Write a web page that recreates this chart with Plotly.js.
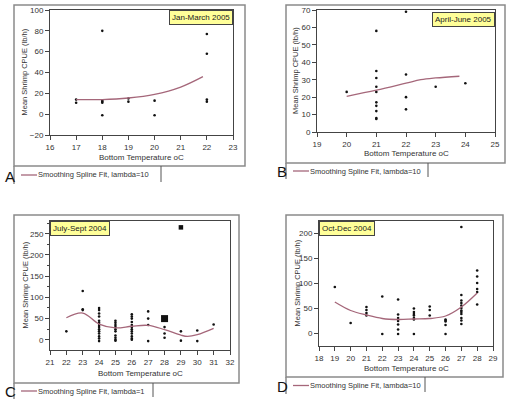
<!DOCTYPE html>
<html><head><meta charset="utf-8">
<script src="https://cdn.plot.ly/plotly-3.0.1.min.js"></script>
<style>html,body{margin:0;padding:0;background:#fff}</style>
</head><body><div id="chart" style="width:510px;height:402px"></div>
<script>
// Panel A: Jan-March 2005
const aTemp = [17,17,18,18,18,18,18,19,19,20,20,22,22,22,22];
const aCpue = [14,11,80,13,12,11,-1,15,12,13,-1,77,58,14,12];
const aFitT = [17,18,19,20,21,21.85];
const aFitC = [14,14,15.5,19,26,36];
// Panel B: April-June 2005
const bTemp = [20,21,21,21,21,21,21,21,21,21,21,22,22,22,22,23,24];
const bCpue = [23,58,35,31,26,23,17,15,12,8,7.5,69,33,20,13,26,28];
const bFitT = [20,21,22,22.5,23,23.8];
const bFitC = [20.5,24,28,30,31,32];
// Panel C: July-Sept 2004
const cTemp = [22,23,23,23,24,24,24,24,24,24,24,24,24,24,24,24,24,24,25,25,25,25,25,25,25,25,25,25,26,26,26,26,26,26,26,26,26,26,26,26,27,27,27,27,28,28,28,29,29,30,30,31];
const cCpue = [20,115,72,70,75,70,62,55,45,40,35,30,25,20,15,8,3,-3,45,40,35,30,25,20,10,5,0,-2,60,55,50,42,35,30,25,20,15,8,3,0,67,50,35,-3,30,15,5,20,-2,22,-3,36];
const cBigT = [28];
const cBigC = [50];
const cMidT = [29];
const cMidC = [265];
const cFitT = [22,23,24,25,26,27,28,29,29.4,30,31];
const cFitC = [52,63,37,28,32,34,24,11,8,12,27];
// Panel D: Oct-Dec 2004
const dTemp = [19,20,21,21,21,21,22,22,23,23,23,23,23,23,23,24,24,24,24,24,24,24,25,25,25,26,26,26,26,26,27,27,27,27,27,27,27,27,27,27,27,27,28,28,28,28,28,28];
const dCpue = [92,20,52,46,40,35,73,-2,67,37,30,24,17,7,-2,49,42,38,35,30,27,-2,53,46,35,27,25,23,16,-2,212,76,65,60,55,50,45,42,38,30,25,18,125,113,100,88,82,57];
const dFitT = [19,20,21,22,23,24,25,26,27,28];
const dFitC = [62,45,36,29,27,28,29,34,52,80];

const panelTitles = ['Jan-March 2005','April-June 2005','July-Sept 2004','Oct-Dec 2004'];
const legendTexts = ['Smoothing Spline Fit, lambda=10','Smoothing Spline Fit, lambda=10','Smoothing Spline Fit, lambda=1','Smoothing Spline Fit, lambda=10'];
const panelLetters = ['A','B','C','D'];
const xTitle = 'Bottom Temperature oC';
const yTitle = 'Mean Shrimp CPUE (lb/h)';

const W = 510, H = 402;
const px = v => v / W;
const py = v => 1 - v / H;
const fitColor = '#a5677a';
const FONT = 'Liberation Sans, Arial, sans-serif';

function dots(x, y, ax, size, sym) {
  return {x, y, xaxis: 'x' + ax, yaxis: 'y' + ax, type: 'scatter', mode: 'markers',
    marker: {color: '#111', size: size || 2.6, symbol: sym || 'circle'}, showlegend: false, hoverinfo: 'x+y'};
}
function fit(x, y, ax) {
  return {x, y, xaxis: 'x' + ax, yaxis: 'y' + ax, type: 'scatter', mode: 'lines',
    line: {color: fitColor, width: 1.3, shape: 'spline', smoothing: 1}, showlegend: false};
}

const traces = [
  dots(aTemp, aCpue, ''), fit(aFitT, aFitC, ''),
  dots(bTemp, bCpue, '2'), fit(bFitT, bFitC, '2'),
  dots(cTemp, cCpue, '3'), dots(cBigT, cBigC, '3', 7, 'square'), dots(cMidT, cMidC, '3', 4.5, 'square'), fit(cFitT, cFitC, '3'),
  dots(dTemp, dCpue, '4'), fit(dFitT, dFitC, '4')
];

// plot boxes in pixels [left, top, right, bottom]
const boxes = [[50,10,233,135],[317,10,495,132],[50,221,230,350],[319,221,493,346]];
const xr = [[16,23],[19,25],[21,32],[18,29]];
const yr = [[-20,100],[0,70],[-24,280],[-26,224]];
const ydt = [20,10,50,50];
// axis title positions [yTitle x, xTitle y]
const titlePos = [[24,157],[295,153],[25,373],[297,368]];

function xaxis(i) {
  const b = boxes[i];
  return {domain: [px(b[0]), px(b[2])], range: xr[i], anchor: i ? 'y' + (i+1) : 'y',
    showgrid: false, zeroline: false, showline: true, mirror: true, linecolor: '#444', linewidth: 1,
    ticks: 'outside', ticklen: 4, tickcolor: '#444', dtick: 1, tick0: 0,
    tickfont: {family: FONT, size: 8, color: '#333'}};
}
function yaxis(i) {
  const b = boxes[i];
  const ax = {domain: [py(b[3]), py(b[1])], range: yr[i], anchor: i ? 'x' + (i+1) : 'x',
    showgrid: false, zeroline: false, showline: true, mirror: true, linecolor: '#444', linewidth: 1,
    ticks: 'outside', ticklen: 4, tickcolor: '#444', dtick: ydt[i], tick0: 0,
    tickfont: {family: FONT, size: 8, color: '#333'}};
  if (i === 2) ax.minor = {dtick: 25, ticks: 'outside', ticklen: 2, tickcolor: '#444'};
  return ax;
}

// outer frames [left, top, right, bottom, legend right line x, legend bottom]
const frames = [[14,5,245,166,161,182],[286,5,505,163,428,177],[14,215,239,383,153,397],[286,215,503,377,425,392]];
const shapes = [], annotations = [];
frames.forEach((f, i) => {
  const b = boxes[i];
  shapes.push({type: 'rect', xref: 'paper', yref: 'paper', x0: px(f[0]), x1: px(f[2]), y0: py(f[3]), y1: py(f[1]), line: {color: '#8a8a8a', width: 1.5}});
  shapes.push({type: 'line', xref: 'paper', yref: 'paper', x0: px(f[0]), x1: px(f[0]), y0: py(f[3]), y1: py(f[5] + 2), line: {color: '#8a8a8a', width: 1.5}});
  shapes.push({type: 'line', xref: 'paper', yref: 'paper', x0: px(f[4]), x1: px(f[4]), y0: py(f[3]), y1: py(f[5]), line: {color: '#555', width: 1}});
  const ly = (f[3] + f[5]) / 2 + 1;
  shapes.push({type: 'line', xref: 'paper', yref: 'paper', x0: px(f[0] + 7), x1: px(f[0] + 23), y0: py(ly), y1: py(ly), line: {color: fitColor, width: 1.3}});
  annotations.push({xref: 'paper', yref: 'paper', x: px(f[0] + 22), y: py(ly), xanchor: 'left', yanchor: 'middle', showarrow: false,
    text: legendTexts[i], font: {family: FONT, size: 7.5, color: '#333'}});
  annotations.push({xref: 'paper', yref: 'paper', x: px(f[0] - 11), y: py(f[5] - 6), xanchor: 'left', yanchor: 'middle', showarrow: false,
    text: panelLetters[i], font: {family: FONT, size: 15, color: '#111'}});
  // axis titles
  annotations.push({xref: 'paper', yref: 'paper', x: px(titlePos[i][0]), y: py((b[1] + b[3]) / 2), xanchor: 'center', yanchor: 'middle',
    textangle: -90, showarrow: false, text: yTitle, font: {family: FONT, size: 7.5, color: '#333'}});
  annotations.push({xref: 'paper', yref: 'paper', x: px((b[0] + b[2]) / 2), y: py(titlePos[i][1]), xanchor: 'center', yanchor: 'middle',
    showarrow: false, text: xTitle, font: {family: FONT, size: 8, color: '#333'}});
});
// panel title boxes
const tb = [[233, 10, 'right'],[495, 12, 'right'],[50, 221, 'left'],[319, 221, 'left']];
tb.forEach((t, i) => {
  annotations.push({xref: 'paper', yref: 'paper', x: px(t[0]), y: py(t[1]), xanchor: t[2], yanchor: 'top', showarrow: false,
    text: panelTitles[i], font: {family: FONT, size: 8, color: '#222'}, bgcolor: '#ffff99', bordercolor: '#444', borderwidth: 1, borderpad: 2});
});

const layout = {width: W, height: H, margin: {l: 0, r: 0, t: 0, b: 0}, paper_bgcolor: '#fff', plot_bgcolor: '#fff',
  showlegend: false, shapes, annotations,
  xaxis: xaxis(0), yaxis: yaxis(0), xaxis2: xaxis(1), yaxis2: yaxis(1),
  xaxis3: xaxis(2), yaxis3: yaxis(2), xaxis4: xaxis(3), yaxis4: yaxis(3)};
Plotly.newPlot('chart', traces, layout, {displayModeBar: false, staticPlot: true});
</script></body></html>
